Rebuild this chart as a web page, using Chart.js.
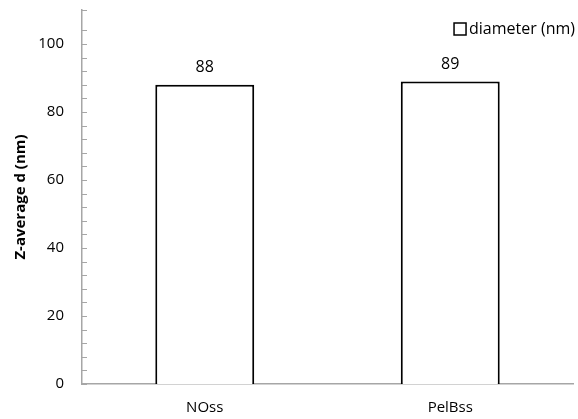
<!DOCTYPE html>
<html>
<head>
<meta charset="utf-8">
<script src="https://cdn.jsdelivr.net/npm/chart.js@4/dist/chart.umd.min.js"></script>
<style>
  html, body { margin: 0; padding: 0; background: #fff; }
  #wrap { width: 578px; height: 419px; }
</style>
</head>
<body>
<div id="wrap"><canvas id="myChart1"></canvas></div>
<script>
let categories = ['NOss', 'PelBss'];
let diameterNm = [88, 89];
let yLabelled = [0, 20, 40, 60, 80, 100];

let axisGrey = '#a6a6a6';
let fontFamily = '"Open Sans", "Liberation Sans", sans-serif';

// inner tick marks on the y axis, value labels over the bars and the legend box
let extras = {
  id: 'extras',
  afterDraw(chart) {
    let c = chart.ctx;
    let y = chart.scales.y;
    let area = chart.chartArea;
    c.save();
    c.strokeStyle = axisGrey;
    c.lineWidth = 1;
    y.ticks.forEach((t) => {
      let py = Math.round(y.getPixelForValue(t.value)) + 0.5;
      c.beginPath();
      c.moveTo(y.right, py);
      c.lineTo(y.right + 5, py);
      c.stroke();
    });

    let ds = chart.data.datasets[0];
    let meta = chart.getDatasetMeta(0);
    c.fillStyle = '#000';
    c.font = '16px ' + fontFamily;
    c.textAlign = 'center';
    c.textBaseline = 'bottom';
    meta.data.forEach((bar, i) => {
      c.fillText(ds.data[i], bar.x, bar.y - 9);
    });

    // legend
    c.font = '16px ' + fontFamily;
    c.textAlign = 'left';
    c.textBaseline = 'middle';
    let w = c.measureText(ds.label).width;
    let tx = area.right + 2 - w;
    let ly = 29;
    c.fillText(ds.label, tx, ly);
    c.fillStyle = '#fff';
    c.strokeStyle = '#000';
    c.lineWidth = 1.5;
    c.fillRect(tx - 15, ly - 6, 12, 12);
    c.strokeRect(tx - 15, ly - 6, 12, 12);
    c.restore();
  }
};

let ctx = document.getElementById('myChart1').getContext('2d');
let myChart1 = new Chart(ctx, {
  type: 'bar',
  data: {
    labels: categories,
    datasets: [{
      label: 'diameter (nm)',
      data: diameterNm,
      backgroundColor: '#fff',
      borderColor: '#000',
      borderWidth: 2,
      categoryPercentage: 1,
      barPercentage: 0.403
    }]
  },
  options: {
    responsive: true,
    maintainAspectRatio: false,
    animation: false,
    layout: { padding: { top: 10, right: 5, left: 0, bottom: 0 } },
    plugins: {
      tooltip: { enabled: false },
      legend: { display: false }
    },
    scales: {
      x: {
        grid: { display: false },
        border: { color: axisGrey, width: 1.5 },
        ticks: { color: '#000', font: { size: 15, family: fontFamily }, padding: 7 },
        afterFit(scale) { scale.height = 35; }
      },
      y: {
        min: 0,
        max: 110,
        grid: { display: false, drawTicks: false },
        border: { color: axisGrey, width: 1.5 },
        ticks: {
          stepSize: 4,
          autoSkip: false,
          color: '#000',
          padding: 18,
          font: { size: 15, family: fontFamily },
          callback: (v) => yLabelled.includes(v) ? v : ''
        },
        title: {
          display: true,
          text: 'Z-average d (nm)',
          color: '#000',
          font: { size: 15, weight: 'bold', family: fontFamily },
          padding: { top: 12, bottom: 0 }
        },
        afterFit(scale) {
          scale.width = 82;
          scale.paddingTop = 0;
          scale.paddingBottom = 0;
        }
      }
    }
  },
  plugins: [extras]
});
</script>
</body>
</html>
